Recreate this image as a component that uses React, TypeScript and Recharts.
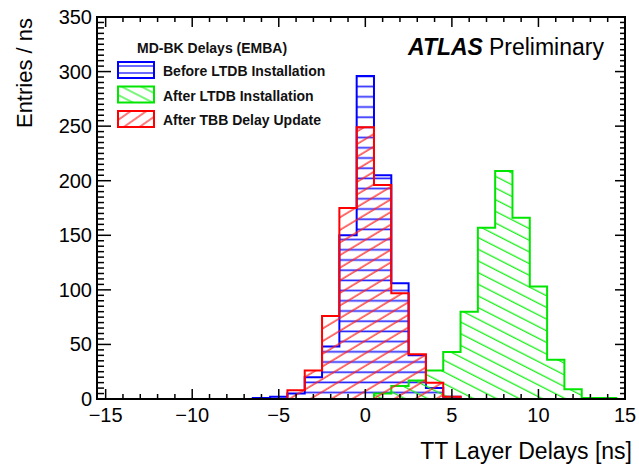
import { ComposedChart, Area, Line, Scatter, XAxis, YAxis } from 'recharts'

// histogram contents, one entry per 1 ns bin, first bin centred at *Start
const beforeStart = -6
const beforeCounts = [1, 2, 5, 20, 48, 150, 296, 205, 106, 40, 10, 2]
const afterLtdbStart = 1
const afterLtdbCounts = [5, 12, 17, 26, 43, 80, 157, 209, 166, 103, 36, 9, 1, 1]
const afterTbbStart = -4
const afterTbbCounts = [8, 26, 76, 175, 249, 196, 97, 41, 15, 2]

const xTicks = [-15, -14, -13, -12, -11, -10, -9, -8, -7, -6, -5, -4, -3, -2, -1, 0, 1, 2, 3, 4, 5, 6, 7, 8, 9, 10, 11, 12, 13, 14, 15]
const yTicks = [
  0, 5, 10, 15, 20, 25, 30, 35, 40, 45, 50, 55, 60, 65, 70, 75, 80, 85, 90, 95, 100,
  105, 110, 115, 120, 125, 130, 135, 140, 145, 150, 155, 160, 165, 170, 175, 180, 185, 190, 195, 200,
  205, 210, 215, 220, 225, 230, 235, 240, 245, 250, 255, 260, 265, 270, 275, 280, 285, 290, 295, 300,
  305, 310, 315, 320, 325, 330, 335, 340, 345, 350,
]
const xLabelTicks = [-15, -10, -5, 0, 5, 10, 15]
const yLabelTicks = [0, 50, 100, 150, 200, 250, 300, 350]
const legendTitle = 'MD-BK Delays (EMBA)'
const legendLabels = ['Before LTDB Installation', 'After LTDB Installation', 'After TBB Delay Update']

const font = '"Liberation Sans", Arial, Helvetica, sans-serif'
const X_DOMAIN: [number, number] = [-15.5, 15]
const Y_DOMAIN: [number, number] = [0, 350]

// bin edges -> points for a stepAfter outline that closes down to zero at both ends
function toSteps(start: number, counts: number[]) {
  const lo = start - 0.5
  return [
    { x: lo, y: 0 },
    ...counts.map((c, i) => ({ x: lo + i, y: c })),
    { x: lo + counts.length, y: 0 },
  ]
}

// ROOT-style frame: ticks pointing inwards on all four sides
const frame = [
  { x: X_DOMAIN[0], y: Y_DOMAIN[0] },
  { x: X_DOMAIN[0], y: Y_DOMAIN[1] },
  { x: X_DOMAIN[1], y: Y_DOMAIN[1] },
  { x: X_DOMAIN[1], y: Y_DOMAIN[0] },
  { x: X_DOMAIN[0], y: Y_DOMAIN[0] },
]
const tickMarks = [
  ...xTicks.map((v) => ({ x: v, y: Y_DOMAIN[0], side: 'b' })),
  ...xTicks.map((v) => ({ x: v, y: Y_DOMAIN[1], side: 't' })),
  ...yTicks.map((v) => ({ x: X_DOMAIN[0], y: v, side: 'l' })),
  ...yTicks.map((v) => ({ x: X_DOMAIN[1], y: v, side: 'r' })),
]

const TickMark = (props: any) => {
  const { cx, cy, payload } = props
  const side = payload.side
  let x2 = cx
  let y2 = cy
  if (side === 'b' || side === 't') {
    const len = payload.x % 5 === 0 ? 10 : 5
    y2 = side === 'b' ? cy - len : cy + len
  } else {
    const major = payload.y % 50 === 0
    x2 = side === 'l' ? cx + (major ? 14 : 7) : cx - (major ? 10 : 5)
  }
  return <line x1={cx} y1={cy} x2={x2} y2={y2} stroke="#000" strokeWidth={1.5} />
}

const fmt = (v: number) => (v < 0 ? '\u2212' + Math.abs(v) : String(v))

const BottomLabel = (props: any) => {
  const { x, y, payload } = props
  return (
    <text x={x} y={y + 23} textAnchor="middle" fontSize={20} fontFamily={font} fill="#000">
      {fmt(payload.value)}
    </text>
  )
}

const LeftLabel = (props: any) => {
  const { x, y, payload } = props
  return (
    <text x={x - 5} y={y + 7} textAnchor="end" fontSize={20} fontFamily={font} fill="#000">
      {payload.value}
    </text>
  )
}

const series = [
  { key: 'before', start: beforeStart, counts: beforeCounts, stroke: '#0000ff', fill: 'url(#hBlue)' },
  { key: 'afterLtdb', start: afterLtdbStart, counts: afterLtdbCounts, stroke: '#00e600', fill: 'url(#hGreen)' },
  { key: 'afterTbb', start: afterTbbStart, counts: afterTbbCounts, stroke: '#ff0000', fill: 'url(#hRed)' },
]

export default function App() {
  return (
    <div style={{ position: 'absolute', left: 0, top: 0, width: 639, height: 464, background: '#fff' }}>
      <svg width={0} height={0} style={{ position: 'absolute' }}>
        <defs>
          <pattern id="hBlue" patternUnits="userSpaceOnUse" width="10" height="10.2">
            <line x1="0" y1="5" x2="10" y2="5" stroke="#2a2aff" strokeWidth="1.7" />
          </pattern>
          <pattern id="hGreen" patternUnits="userSpaceOnUse" width="10" height="10.4" patternTransform="rotate(27)">
            <line x1="0" y1="5" x2="10" y2="5" stroke="#1ef01e" strokeWidth="1.3" />
          </pattern>
          <pattern id="hRed" patternUnits="userSpaceOnUse" width="10" height="10.8" patternTransform="rotate(-31)">
            <line x1="0" y1="5" x2="10" y2="5" stroke="#ff2020" strokeWidth="1.3" />
          </pattern>
          <pattern id="lgBlue" patternUnits="userSpaceOnUse" width="10" height="7">
            <line x1="0" y1="3" x2="10" y2="3" stroke="#2a2aff" strokeWidth="1.4" />
          </pattern>
          <pattern id="lgGreen" patternUnits="userSpaceOnUse" width="10" height="9" patternTransform="rotate(27)">
            <line x1="0" y1="4" x2="10" y2="4" stroke="#1ef01e" strokeWidth="1.2" />
          </pattern>
          <pattern id="lgRed" patternUnits="userSpaceOnUse" width="10" height="9" patternTransform="rotate(-35)">
            <line x1="0" y1="4" x2="10" y2="4" stroke="#ff2020" strokeWidth="1.2" />
          </pattern>
        </defs>
      </svg>
      <ComposedChart width={639} height={464} margin={{ top: 17, right: 14, bottom: 0, left: 0 }}>
        <XAxis
          dataKey="x"
          type="number"
          domain={X_DOMAIN}
          ticks={xLabelTicks}
          interval={0}
          height={65}
          tickSize={0}
          tickMargin={0}
          tickLine={false}
          tick={<BottomLabel />}
          axisLine={{ stroke: '#000', strokeWidth: 2 }}
        />
        <YAxis
          dataKey="y"
          type="number"
          domain={Y_DOMAIN}
          ticks={yLabelTicks}
          interval={0}
          width={97}
          tickSize={0}
          tickMargin={0}
          tickLine={false}
          tick={<LeftLabel />}
          axisLine={{ stroke: '#000', strokeWidth: 2 }}
        />
        {series.map((s) => (
          <Area
            key={s.key}
            data={toSteps(s.start, s.counts)}
            dataKey="y"
            type="stepAfter"
            stroke={s.stroke}
            strokeWidth={2}
            fill={s.fill}
            fillOpacity={1}
            dot={false}
            activeDot={false}
            isAnimationActive={false}
          />
        ))}
        <Line
          data={frame}
          dataKey="y"
          type="linear"
          stroke="#000"
          strokeWidth={2}
          dot={false}
          activeDot={false}
          isAnimationActive={false}
        />
        <Scatter data={tickMarks} dataKey="y" shape={<TickMark />} isAnimationActive={false} />
      </ComposedChart>

      {/* plot frame box */}
      <div
        style={{
          position: 'absolute',
          left: 96,
          top: 16,
          width: 530,
          height: 384,
          boxSizing: 'border-box',
          border: '2px solid #000',
          pointerEvents: 'none',
        }}
      />

      <svg width={639} height={464} style={{ position: 'absolute', left: 0, top: 0, pointerEvents: 'none' }}>
        <text x={137} y={53} fontSize={14} fontWeight="bold" fontFamily={font} fill="#111">
          {legendTitle}
        </text>
        {legendLabels.map((label, i) => (
          <g key={label}>
            <rect
              x={118}
              y={62 + i * 24.5}
              width={36}
              height={16}
              fill={['url(#lgBlue)', 'url(#lgGreen)', 'url(#lgRed)'][i]}
              stroke={series[i].stroke}
              strokeWidth={2}
            />
            <text x={163} y={76 + i * 24.5} fontSize={14} fontWeight="bold" fontFamily={font} fill="#111">
              {label}
            </text>
          </g>
        ))}
        <text x={408} y={55} fontSize={23} fontFamily={font} fill="#000">
          <tspan fontWeight="bold" fontStyle="italic">ATLAS</tspan>
          <tspan dx={6}>Preliminary</tspan>
        </text>
        <text x={632} y={459} textAnchor="end" fontSize={23} fontFamily={font} fill="#000">
          TT Layer Delays [ns]
        </text>
        <text transform="translate(32, 18) rotate(-90)" textAnchor="end" fontSize={22} fontFamily={font} fill="#000">
          Entries / ns
        </text>
      </svg>
    </div>
  )
}
